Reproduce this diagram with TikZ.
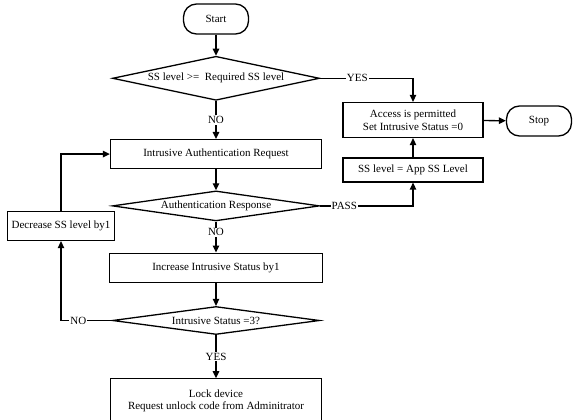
\documentclass[tikz,border=0pt]{standalone}
\usepackage{fontspec}
\setmainfont{Liberation Serif}
\usetikzlibrary{arrows.meta, positioning, shapes.geometric}

\begin{document}
\begin{tikzpicture}[
    x=1pt, y=-1pt,
    font=\fontsize{11}{12.5}\selectfont,
    terminal/.style={
        rectangle,
        rounded corners=13pt,
        draw,
        line width=1.3pt,
        minimum width=65pt,
        minimum height=30pt
    },
    box/.style={
        rectangle,
        draw,
        line width=1.3pt,
        align=center,
        minimum width=211pt,
        minimum height=29pt
    },
    sidebox/.style={
        rectangle,
        draw,
        line width=1.3pt,
        align=center,
        minimum width=140pt,
        minimum height=24pt
    },
    decision/.style={
        diamond,
        draw,
        line width=1.3pt,
        inner sep=0pt,
        aspect=7,
        minimum width=207pt,
        minimum height=30pt
    },
    arrow/.style={
        -{Triangle[length=7pt,width=6.5pt]},
        line width=1.3pt
    },
    answer/.style={
        fill=white,
        inner sep=1pt
    }
]
\useasboundingbox (0,0) rectangle (574,420);

% Main flow
\node[terminal] (start) at (216,19) {Start};
\node[decision, minimum height=44pt, below=21pt of start] (level) {SS level >=\ \ Required SS level};
\node[box, below=38pt of level] (request) {Intrusive Authentication Request};
\node[decision, below=21pt of request] (response) {Authentication Response};
\node[box, minimum width=213pt, below=31pt of response] (increase) {Increase Intrusive Status by1};
\node[decision, minimum height=28pt, below=23pt of increase] (status) {Intrusive Status =3?};
\node[box, minimum height=44pt, below=43pt of status] (lock) {Lock device\\Request unlock code from Adminitrator};

% Side boxes
\node[sidebox, minimum height=35pt] (access) at (413,120) {Access is permitted\\Set Intrusive Status =0};
\node[sidebox] (apply) at (413,170) {SS level = App SS Level};
\node[terminal] (stop) at (539,121) {Stop};
\node[box, minimum width=107pt] (decrease) at (61,226) {Decrease SS level by1};

% Main arrows
\draw[arrow] (start) -- (level);
\draw[arrow] (level) -- node[answer] {NO} (request);
\draw[arrow] (request) -- (response);
\draw[arrow] (response) -- node[answer, pos=0.35] {NO} (increase);
\draw[arrow] (increase) -- (status);
\draw[arrow] (status) -- node[answer] {YES} (lock);

% Granted branch
\draw[arrow] (level.east) -| node[answer, pos=0.2] {YES} (access.north);
\draw[arrow] (response.east) -| node[answer, pos=0.13] {PASS} (apply.south);
\draw[arrow] (apply) -- (access);
\draw[arrow] (access) -- (stop);

% Retry loop
\draw[arrow] (status.west) -| node[answer, pos=0.33] {NO} (decrease.south);
\draw[arrow] (decrease.north) |- (request.west);

\end{tikzpicture}
\end{document}
